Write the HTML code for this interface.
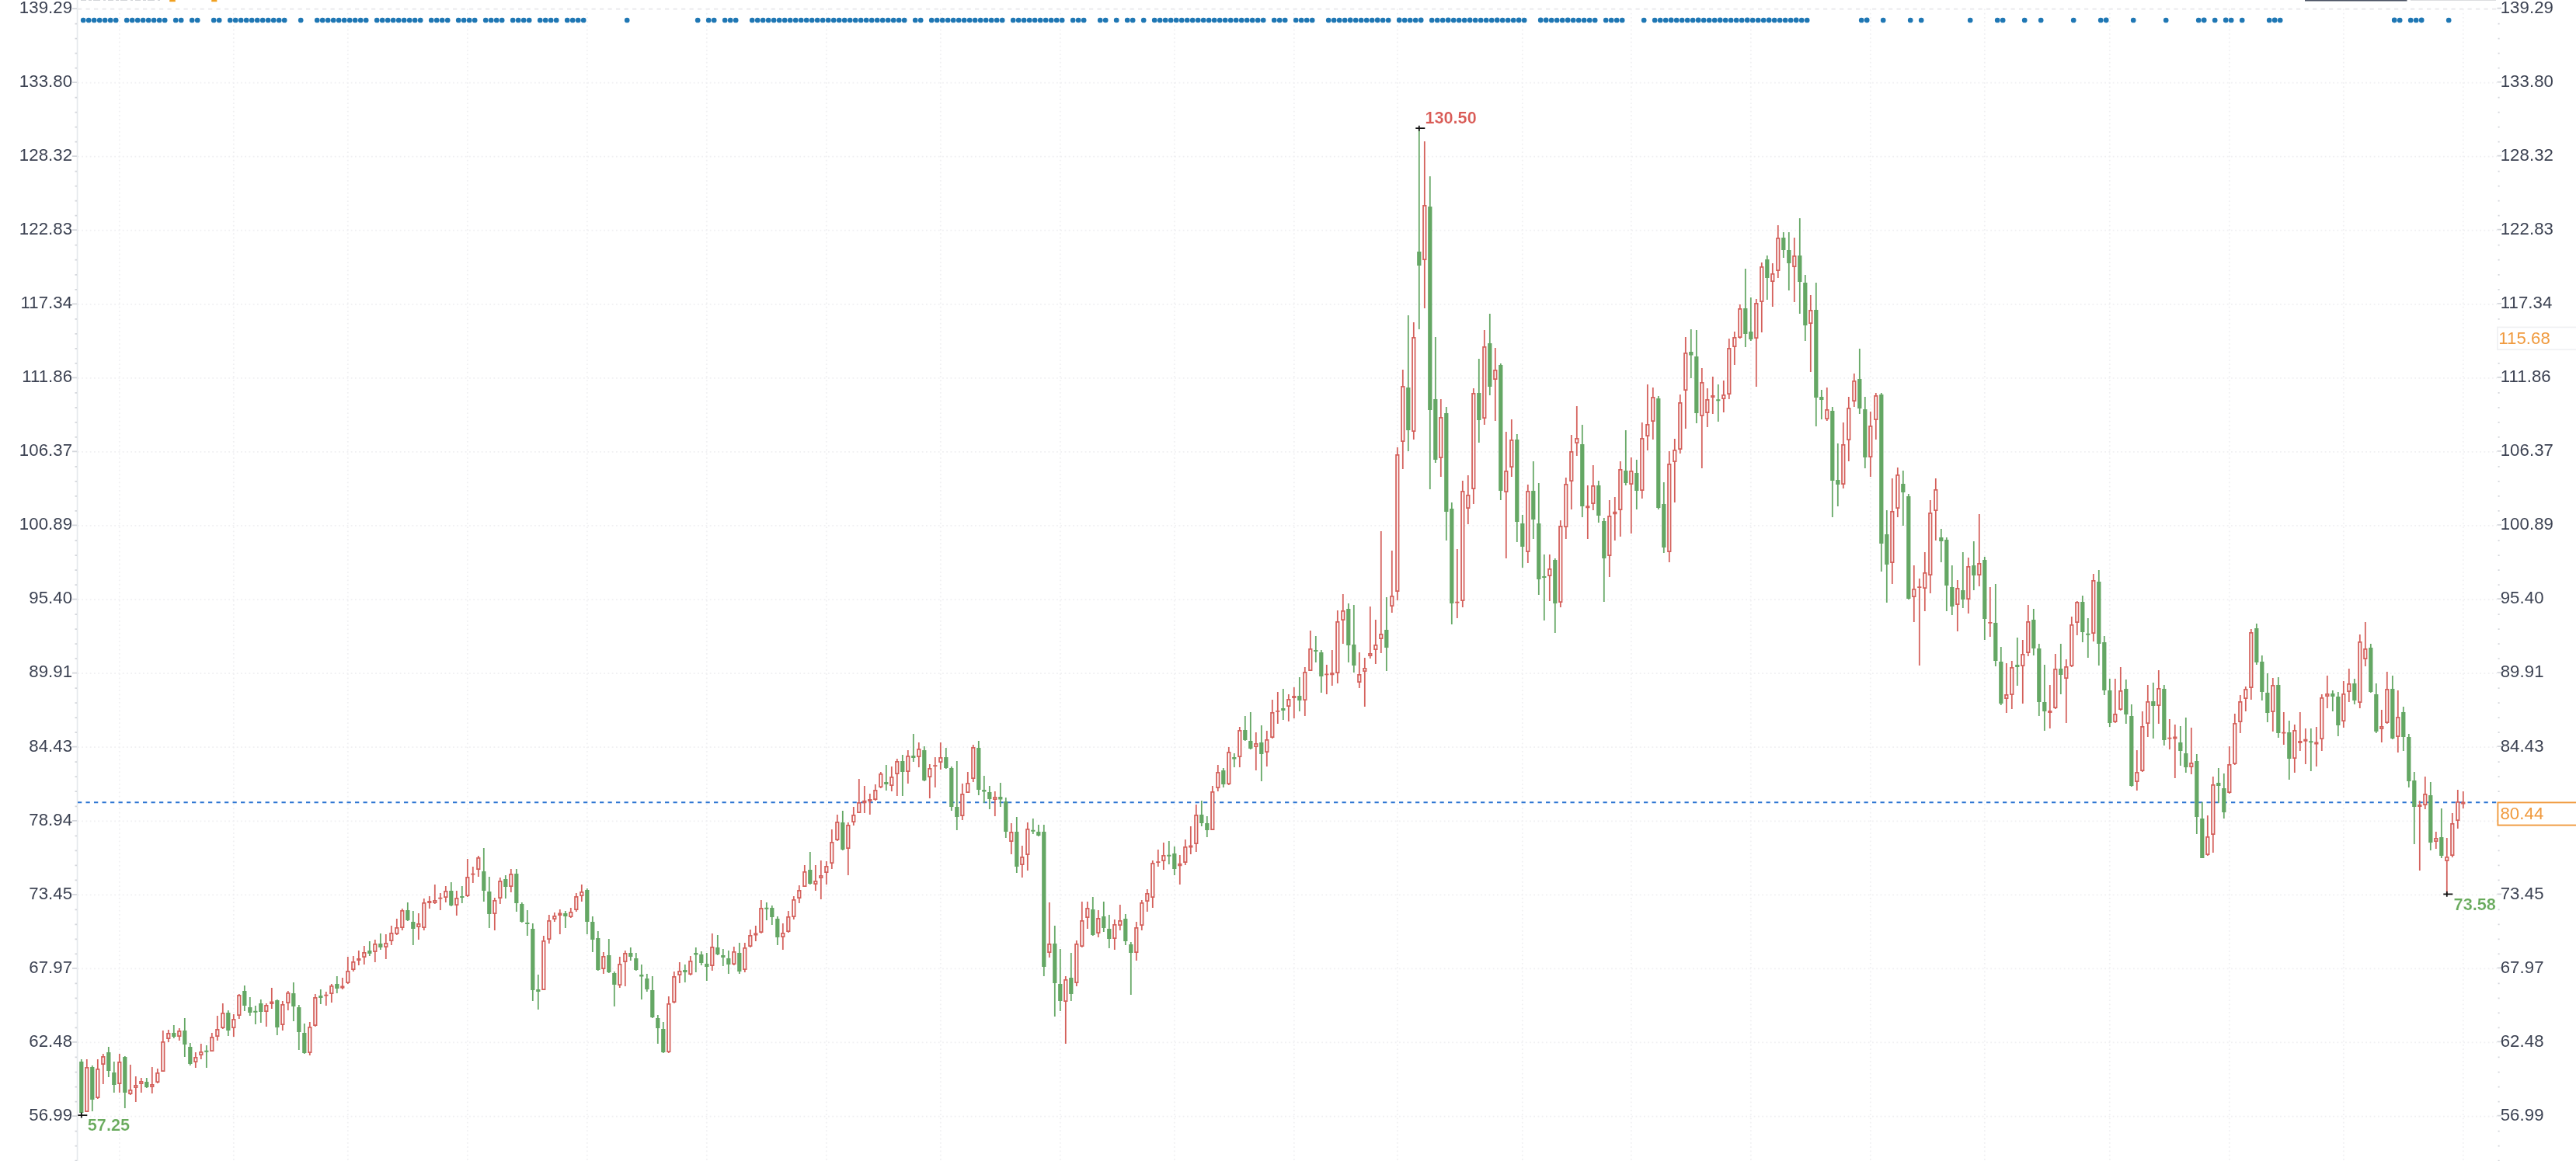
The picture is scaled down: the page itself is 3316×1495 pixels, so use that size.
<!DOCTYPE html><html><head><meta charset="utf-8"><title>Chart</title><style>html,body{margin:0;padding:0;background:#fff}body{width:3316px;height:1495px;overflow:hidden;position:relative}svg{display:block;position:absolute;left:0;top:0;filter:blur(0.6px)}text{font-family:"Liberation Sans",sans-serif;font-size:22.2px;letter-spacing:0.08px}.b{font-weight:bold;font-size:21.7px;letter-spacing:0;stroke:#fff;stroke-width:0.22px}</style></head><body>
<svg width="3316" height="1495" viewBox="0 0 3316 1495">
<rect width="3316" height="1495" fill="#fff"/>
<path d="M104 0.4 H208" stroke="#d3d5d9" stroke-width="1.2" stroke-dasharray="7 3 4 2 9 4 3 3" fill="none"/>
<rect x="218" y="0" width="8" height="2.2" rx="1" fill="#f0a020"/>
<rect x="272" y="0" width="7.5" height="2.2" rx="1" fill="#f0a020"/>
<rect x="2967" y="0" width="131.5" height="1.5" fill="#4a5263"/>
<rect x="3103" y="0" width="110" height="0.9" fill="#d8dadd"/>
<g fill="none"><path d="M100 11.5 H3214" stroke="#e7e8eb" stroke-width="1.75" stroke-dasharray="5.25 5.25"/><path d="M100 106.57 H3214" stroke="#f0f0f2" stroke-width="1.75" stroke-dasharray="1.75 3.5"/><path d="M100 201.64 H3214" stroke="#f0f0f2" stroke-width="1.75" stroke-dasharray="1.75 3.5"/><path d="M100 296.71 H3214" stroke="#f0f0f2" stroke-width="1.75" stroke-dasharray="1.75 3.5"/><path d="M100 391.78 H3214" stroke="#f0f0f2" stroke-width="1.75" stroke-dasharray="1.75 3.5"/><path d="M100 486.85 H3214" stroke="#f0f0f2" stroke-width="1.75" stroke-dasharray="1.75 3.5"/><path d="M100 581.92 H3214" stroke="#f0f0f2" stroke-width="1.75" stroke-dasharray="1.75 3.5"/><path d="M100 676.99 H3214" stroke="#f0f0f2" stroke-width="1.75" stroke-dasharray="1.75 3.5"/><path d="M100 772.06 H3214" stroke="#f0f0f2" stroke-width="1.75" stroke-dasharray="1.75 3.5"/><path d="M100 867.13 H3214" stroke="#f0f0f2" stroke-width="1.75" stroke-dasharray="1.75 3.5"/><path d="M100 962.2 H3214" stroke="#f0f0f2" stroke-width="1.75" stroke-dasharray="1.75 3.5"/><path d="M100 1057.27 H3214" stroke="#f0f0f2" stroke-width="1.75" stroke-dasharray="1.75 3.5"/><path d="M100 1152.34 H3214" stroke="#f0f0f2" stroke-width="1.75" stroke-dasharray="1.75 3.5"/><path d="M100 1247.41 H3214" stroke="#f0f0f2" stroke-width="1.75" stroke-dasharray="1.75 3.5"/><path d="M100 1342.48 H3214" stroke="#f0f0f2" stroke-width="1.75" stroke-dasharray="1.75 3.5"/><path d="M100 1437.55 H3214" stroke="#f0f0f2" stroke-width="1.75" stroke-dasharray="1.75 3.5"/><path d="M153.8 11.5 V1495" stroke="#f0f0f2" stroke-width="1.75" stroke-dasharray="1.75 3.5"/><path d="M300.8 11.5 V1495" stroke="#f0f0f2" stroke-width="1.75" stroke-dasharray="1.75 3.5"/><path d="M447.8 11.5 V1495" stroke="#f0f0f2" stroke-width="1.75" stroke-dasharray="1.75 3.5"/><path d="M601.8 11.5 V1495" stroke="#f0f0f2" stroke-width="1.75" stroke-dasharray="1.75 3.5"/><path d="M755.8 11.5 V1495" stroke="#f0f0f2" stroke-width="1.75" stroke-dasharray="1.75 3.5"/><path d="M909.8 11.5 V1495" stroke="#f0f0f2" stroke-width="1.75" stroke-dasharray="1.75 3.5"/><path d="M1063.8 11.5 V1495" stroke="#f0f0f2" stroke-width="1.75" stroke-dasharray="1.75 3.5"/><path d="M1210.8 11.5 V1495" stroke="#f0f0f2" stroke-width="1.75" stroke-dasharray="1.75 3.5"/><path d="M1364.8 11.5 V1495" stroke="#f0f0f2" stroke-width="1.75" stroke-dasharray="1.75 3.5"/><path d="M1511.8 11.5 V1495" stroke="#f0f0f2" stroke-width="1.75" stroke-dasharray="1.75 3.5"/><path d="M1665.8 11.5 V1495" stroke="#f0f0f2" stroke-width="1.75" stroke-dasharray="1.75 3.5"/><path d="M1798.8 11.5 V1495" stroke="#f0f0f2" stroke-width="1.75" stroke-dasharray="1.75 3.5"/><path d="M1959.8 11.5 V1495" stroke="#f0f0f2" stroke-width="1.75" stroke-dasharray="1.75 3.5"/><path d="M2099.8 11.5 V1495" stroke="#f0f0f2" stroke-width="1.75" stroke-dasharray="1.75 3.5"/><path d="M2253.8 11.5 V1495" stroke="#f0f0f2" stroke-width="1.75" stroke-dasharray="1.75 3.5"/><path d="M2407.8 11.5 V1495" stroke="#f0f0f2" stroke-width="1.75" stroke-dasharray="1.75 3.5"/><path d="M2554.8 11.5 V1495" stroke="#f0f0f2" stroke-width="1.75" stroke-dasharray="1.75 3.5"/><path d="M2715.8 11.5 V1495" stroke="#f0f0f2" stroke-width="1.75" stroke-dasharray="1.75 3.5"/><path d="M2869.8 11.5 V1495" stroke="#f0f0f2" stroke-width="1.75" stroke-dasharray="1.75 3.5"/><path d="M3016.8 11.5 V1495" stroke="#f0f0f2" stroke-width="1.75" stroke-dasharray="1.75 3.5"/><path d="M3170.8 11.5 V1495" stroke="#f0f0f2" stroke-width="1.75" stroke-dasharray="1.75 3.5"/></g>
<path d="M99.6 0 V1495" stroke="#e6e9ed" stroke-width="1.75" fill="none"/>
<path d="M93 11 H99M3214.5 10.5 H3220M96.5 30.51 H99M3215.6 30.51 H3217.6M96.5 49.53 H99M3215.6 49.53 H3217.6M96.5 68.54 H99M3215.6 68.54 H3217.6M96.5 87.56 H99M3215.6 87.56 H3217.6M93 106.07 H99M3214.5 105.57 H3220M96.5 125.58 H99M3215.6 125.58 H3217.6M96.5 144.6 H99M3215.6 144.6 H3217.6M96.5 163.61 H99M3215.6 163.61 H3217.6M96.5 182.63 H99M3215.6 182.63 H3217.6M93 201.14 H99M3214.5 200.64 H3220M96.5 220.65 H99M3215.6 220.65 H3217.6M96.5 239.67 H99M3215.6 239.67 H3217.6M96.5 258.68 H99M3215.6 258.68 H3217.6M96.5 277.7 H99M3215.6 277.7 H3217.6M93 296.21 H99M3214.5 295.71 H3220M96.5 315.72 H99M3215.6 315.72 H3217.6M96.5 334.74 H99M3215.6 334.74 H3217.6M96.5 353.75 H99M3215.6 353.75 H3217.6M96.5 372.77 H99M3215.6 372.77 H3217.6M93 391.28 H99M3214.5 390.78 H3220M96.5 410.79 H99M3215.6 410.79 H3217.6M96.5 429.81 H99M3215.6 429.81 H3217.6M96.5 448.82 H99M3215.6 448.82 H3217.6M96.5 467.84 H99M3215.6 467.84 H3217.6M93 486.35 H99M3214.5 485.85 H3220M96.5 505.86 H99M3215.6 505.86 H3217.6M96.5 524.88 H99M3215.6 524.88 H3217.6M96.5 543.89 H99M3215.6 543.89 H3217.6M96.5 562.91 H99M3215.6 562.91 H3217.6M93 581.42 H99M3214.5 580.92 H3220M96.5 600.93 H99M3215.6 600.93 H3217.6M96.5 619.95 H99M3215.6 619.95 H3217.6M96.5 638.96 H99M3215.6 638.96 H3217.6M96.5 657.98 H99M3215.6 657.98 H3217.6M93 676.49 H99M3214.5 675.99 H3220M96.5 696 H99M3215.6 696 H3217.6M96.5 715.02 H99M3215.6 715.02 H3217.6M96.5 734.03 H99M3215.6 734.03 H3217.6M96.5 753.05 H99M3215.6 753.05 H3217.6M93 771.56 H99M3214.5 771.06 H3220M96.5 791.07 H99M3215.6 791.07 H3217.6M96.5 810.09 H99M3215.6 810.09 H3217.6M96.5 829.1 H99M3215.6 829.1 H3217.6M96.5 848.12 H99M3215.6 848.12 H3217.6M93 866.63 H99M3214.5 866.13 H3220M96.5 886.14 H99M3215.6 886.14 H3217.6M96.5 905.16 H99M3215.6 905.16 H3217.6M96.5 924.17 H99M3215.6 924.17 H3217.6M96.5 943.19 H99M3215.6 943.19 H3217.6M93 961.7 H99M3214.5 961.2 H3220M96.5 981.21 H99M3215.6 981.21 H3217.6M96.5 1000.23 H99M3215.6 1000.23 H3217.6M96.5 1019.24 H99M3215.6 1019.24 H3217.6M96.5 1038.26 H99M3215.6 1038.26 H3217.6M93 1056.77 H99M3214.5 1056.27 H3220M96.5 1076.28 H99M3215.6 1076.28 H3217.6M96.5 1095.3 H99M3215.6 1095.3 H3217.6M96.5 1114.31 H99M3215.6 1114.31 H3217.6M96.5 1133.33 H99M3215.6 1133.33 H3217.6M93 1151.84 H99M3214.5 1151.34 H3220M96.5 1171.35 H99M3215.6 1171.35 H3217.6M96.5 1190.37 H99M3215.6 1190.37 H3217.6M96.5 1209.38 H99M3215.6 1209.38 H3217.6M96.5 1228.4 H99M3215.6 1228.4 H3217.6M93 1246.91 H99M3214.5 1246.41 H3220M96.5 1266.42 H99M3215.6 1266.42 H3217.6M96.5 1285.44 H99M3215.6 1285.44 H3217.6M96.5 1304.45 H99M3215.6 1304.45 H3217.6M96.5 1323.47 H99M3215.6 1323.47 H3217.6M93 1341.98 H99M3214.5 1341.48 H3220M96.5 1361.49 H99M3215.6 1361.49 H3217.6M96.5 1380.51 H99M3215.6 1380.51 H3217.6M96.5 1399.52 H99M3215.6 1399.52 H3217.6M96.5 1418.54 H99M3215.6 1418.54 H3217.6M93 1437.05 H99M3214.5 1436.55 H3220M96.5 1456.56 H99M3215.6 1456.56 H3217.6M96.5 1475.58 H99M3215.6 1475.58 H3217.6M96.5 1494.59 H99M3215.6 1494.59 H3217.6" stroke="#d3d6db" stroke-width="1.75" fill="none"/>
<text x="93.2" y="16.8" text-anchor="end" fill="#3c4252">139.29</text>
<text x="3218.7" y="16.8" fill="#3c4252">139.29</text>
<text x="93.2" y="111.87" text-anchor="end" fill="#3c4252">133.80</text>
<text x="3218.7" y="111.87" fill="#3c4252">133.80</text>
<text x="93.2" y="206.94" text-anchor="end" fill="#3c4252">128.32</text>
<text x="3218.7" y="206.94" fill="#3c4252">128.32</text>
<text x="93.2" y="302.01" text-anchor="end" fill="#3c4252">122.83</text>
<text x="3218.7" y="302.01" fill="#3c4252">122.83</text>
<text x="93.2" y="397.08" text-anchor="end" fill="#3c4252">117.34</text>
<text x="3218.7" y="397.08" fill="#3c4252">117.34</text>
<text x="93.2" y="492.15" text-anchor="end" fill="#3c4252">111.86</text>
<text x="3218.7" y="492.15" fill="#3c4252">111.86</text>
<text x="93.2" y="587.22" text-anchor="end" fill="#3c4252">106.37</text>
<text x="3218.7" y="587.22" fill="#3c4252">106.37</text>
<text x="93.2" y="682.29" text-anchor="end" fill="#3c4252">100.89</text>
<text x="3218.7" y="682.29" fill="#3c4252">100.89</text>
<text x="93.2" y="777.36" text-anchor="end" fill="#3c4252">95.40</text>
<text x="3218.7" y="777.36" fill="#3c4252">95.40</text>
<text x="93.2" y="872.43" text-anchor="end" fill="#3c4252">89.91</text>
<text x="3218.7" y="872.43" fill="#3c4252">89.91</text>
<text x="93.2" y="967.5" text-anchor="end" fill="#3c4252">84.43</text>
<text x="3218.7" y="967.5" fill="#3c4252">84.43</text>
<text x="93.2" y="1062.57" text-anchor="end" fill="#3c4252">78.94</text>
<text x="3218.7" y="1062.57" fill="#3c4252">78.94</text>
<text x="93.2" y="1157.64" text-anchor="end" fill="#3c4252">73.45</text>
<text x="3218.7" y="1157.64" fill="#3c4252">73.45</text>
<text x="93.2" y="1252.71" text-anchor="end" fill="#3c4252">67.97</text>
<text x="3218.7" y="1252.71" fill="#3c4252">67.97</text>
<text x="93.2" y="1347.78" text-anchor="end" fill="#3c4252">62.48</text>
<text x="3218.7" y="1347.78" fill="#3c4252">62.48</text>
<text x="93.2" y="1442.85" text-anchor="end" fill="#3c4252">56.99</text>
<text x="3218.7" y="1442.85" fill="#3c4252">56.99</text>
<path d="M103.85 26a3.35 3.35 0 1 0 6.7 0a3.35 3.35 0 1 0 -6.7 0M110.85 26a3.35 3.35 0 1 0 6.7 0a3.35 3.35 0 1 0 -6.7 0M117.85 26a3.35 3.35 0 1 0 6.7 0a3.35 3.35 0 1 0 -6.7 0M124.85 26a3.35 3.35 0 1 0 6.7 0a3.35 3.35 0 1 0 -6.7 0M131.85 26a3.35 3.35 0 1 0 6.7 0a3.35 3.35 0 1 0 -6.7 0M138.85 26a3.35 3.35 0 1 0 6.7 0a3.35 3.35 0 1 0 -6.7 0M145.85 26a3.35 3.35 0 1 0 6.7 0a3.35 3.35 0 1 0 -6.7 0M159.85 26a3.35 3.35 0 1 0 6.7 0a3.35 3.35 0 1 0 -6.7 0M166.85 26a3.35 3.35 0 1 0 6.7 0a3.35 3.35 0 1 0 -6.7 0M173.85 26a3.35 3.35 0 1 0 6.7 0a3.35 3.35 0 1 0 -6.7 0M180.85 26a3.35 3.35 0 1 0 6.7 0a3.35 3.35 0 1 0 -6.7 0M187.85 26a3.35 3.35 0 1 0 6.7 0a3.35 3.35 0 1 0 -6.7 0M194.85 26a3.35 3.35 0 1 0 6.7 0a3.35 3.35 0 1 0 -6.7 0M201.85 26a3.35 3.35 0 1 0 6.7 0a3.35 3.35 0 1 0 -6.7 0M208.85 26a3.35 3.35 0 1 0 6.7 0a3.35 3.35 0 1 0 -6.7 0M222.85 26a3.35 3.35 0 1 0 6.7 0a3.35 3.35 0 1 0 -6.7 0M229.85 26a3.35 3.35 0 1 0 6.7 0a3.35 3.35 0 1 0 -6.7 0M243.85 26a3.35 3.35 0 1 0 6.7 0a3.35 3.35 0 1 0 -6.7 0M250.85 26a3.35 3.35 0 1 0 6.7 0a3.35 3.35 0 1 0 -6.7 0M271.85 26a3.35 3.35 0 1 0 6.7 0a3.35 3.35 0 1 0 -6.7 0M278.85 26a3.35 3.35 0 1 0 6.7 0a3.35 3.35 0 1 0 -6.7 0M292.85 26a3.35 3.35 0 1 0 6.7 0a3.35 3.35 0 1 0 -6.7 0M299.85 26a3.35 3.35 0 1 0 6.7 0a3.35 3.35 0 1 0 -6.7 0M306.85 26a3.35 3.35 0 1 0 6.7 0a3.35 3.35 0 1 0 -6.7 0M313.85 26a3.35 3.35 0 1 0 6.7 0a3.35 3.35 0 1 0 -6.7 0M320.85 26a3.35 3.35 0 1 0 6.7 0a3.35 3.35 0 1 0 -6.7 0M327.85 26a3.35 3.35 0 1 0 6.7 0a3.35 3.35 0 1 0 -6.7 0M334.85 26a3.35 3.35 0 1 0 6.7 0a3.35 3.35 0 1 0 -6.7 0M341.85 26a3.35 3.35 0 1 0 6.7 0a3.35 3.35 0 1 0 -6.7 0M348.85 26a3.35 3.35 0 1 0 6.7 0a3.35 3.35 0 1 0 -6.7 0M355.85 26a3.35 3.35 0 1 0 6.7 0a3.35 3.35 0 1 0 -6.7 0M362.85 26a3.35 3.35 0 1 0 6.7 0a3.35 3.35 0 1 0 -6.7 0M383.85 26a3.35 3.35 0 1 0 6.7 0a3.35 3.35 0 1 0 -6.7 0M404.85 26a3.35 3.35 0 1 0 6.7 0a3.35 3.35 0 1 0 -6.7 0M411.85 26a3.35 3.35 0 1 0 6.7 0a3.35 3.35 0 1 0 -6.7 0M418.85 26a3.35 3.35 0 1 0 6.7 0a3.35 3.35 0 1 0 -6.7 0M425.85 26a3.35 3.35 0 1 0 6.7 0a3.35 3.35 0 1 0 -6.7 0M432.85 26a3.35 3.35 0 1 0 6.7 0a3.35 3.35 0 1 0 -6.7 0M439.85 26a3.35 3.35 0 1 0 6.7 0a3.35 3.35 0 1 0 -6.7 0M446.85 26a3.35 3.35 0 1 0 6.7 0a3.35 3.35 0 1 0 -6.7 0M453.85 26a3.35 3.35 0 1 0 6.7 0a3.35 3.35 0 1 0 -6.7 0M460.85 26a3.35 3.35 0 1 0 6.7 0a3.35 3.35 0 1 0 -6.7 0M467.85 26a3.35 3.35 0 1 0 6.7 0a3.35 3.35 0 1 0 -6.7 0M481.85 26a3.35 3.35 0 1 0 6.7 0a3.35 3.35 0 1 0 -6.7 0M488.85 26a3.35 3.35 0 1 0 6.7 0a3.35 3.35 0 1 0 -6.7 0M495.85 26a3.35 3.35 0 1 0 6.7 0a3.35 3.35 0 1 0 -6.7 0M502.85 26a3.35 3.35 0 1 0 6.7 0a3.35 3.35 0 1 0 -6.7 0M509.85 26a3.35 3.35 0 1 0 6.7 0a3.35 3.35 0 1 0 -6.7 0M516.85 26a3.35 3.35 0 1 0 6.7 0a3.35 3.35 0 1 0 -6.7 0M523.85 26a3.35 3.35 0 1 0 6.7 0a3.35 3.35 0 1 0 -6.7 0M530.85 26a3.35 3.35 0 1 0 6.7 0a3.35 3.35 0 1 0 -6.7 0M537.85 26a3.35 3.35 0 1 0 6.7 0a3.35 3.35 0 1 0 -6.7 0M551.85 26a3.35 3.35 0 1 0 6.7 0a3.35 3.35 0 1 0 -6.7 0M558.85 26a3.35 3.35 0 1 0 6.7 0a3.35 3.35 0 1 0 -6.7 0M565.85 26a3.35 3.35 0 1 0 6.7 0a3.35 3.35 0 1 0 -6.7 0M572.85 26a3.35 3.35 0 1 0 6.7 0a3.35 3.35 0 1 0 -6.7 0M586.85 26a3.35 3.35 0 1 0 6.7 0a3.35 3.35 0 1 0 -6.7 0M593.85 26a3.35 3.35 0 1 0 6.7 0a3.35 3.35 0 1 0 -6.7 0M600.85 26a3.35 3.35 0 1 0 6.7 0a3.35 3.35 0 1 0 -6.7 0M607.85 26a3.35 3.35 0 1 0 6.7 0a3.35 3.35 0 1 0 -6.7 0M621.85 26a3.35 3.35 0 1 0 6.7 0a3.35 3.35 0 1 0 -6.7 0M628.85 26a3.35 3.35 0 1 0 6.7 0a3.35 3.35 0 1 0 -6.7 0M635.85 26a3.35 3.35 0 1 0 6.7 0a3.35 3.35 0 1 0 -6.7 0M642.85 26a3.35 3.35 0 1 0 6.7 0a3.35 3.35 0 1 0 -6.7 0M656.85 26a3.35 3.35 0 1 0 6.7 0a3.35 3.35 0 1 0 -6.7 0M663.85 26a3.35 3.35 0 1 0 6.7 0a3.35 3.35 0 1 0 -6.7 0M670.85 26a3.35 3.35 0 1 0 6.7 0a3.35 3.35 0 1 0 -6.7 0M677.85 26a3.35 3.35 0 1 0 6.7 0a3.35 3.35 0 1 0 -6.7 0M691.85 26a3.35 3.35 0 1 0 6.7 0a3.35 3.35 0 1 0 -6.7 0M698.85 26a3.35 3.35 0 1 0 6.7 0a3.35 3.35 0 1 0 -6.7 0M705.85 26a3.35 3.35 0 1 0 6.7 0a3.35 3.35 0 1 0 -6.7 0M712.85 26a3.35 3.35 0 1 0 6.7 0a3.35 3.35 0 1 0 -6.7 0M726.85 26a3.35 3.35 0 1 0 6.7 0a3.35 3.35 0 1 0 -6.7 0M733.85 26a3.35 3.35 0 1 0 6.7 0a3.35 3.35 0 1 0 -6.7 0M740.85 26a3.35 3.35 0 1 0 6.7 0a3.35 3.35 0 1 0 -6.7 0M747.85 26a3.35 3.35 0 1 0 6.7 0a3.35 3.35 0 1 0 -6.7 0M803.85 26a3.35 3.35 0 1 0 6.7 0a3.35 3.35 0 1 0 -6.7 0M894.85 26a3.35 3.35 0 1 0 6.7 0a3.35 3.35 0 1 0 -6.7 0M908.85 26a3.35 3.35 0 1 0 6.7 0a3.35 3.35 0 1 0 -6.7 0M915.85 26a3.35 3.35 0 1 0 6.7 0a3.35 3.35 0 1 0 -6.7 0M929.85 26a3.35 3.35 0 1 0 6.7 0a3.35 3.35 0 1 0 -6.7 0M936.85 26a3.35 3.35 0 1 0 6.7 0a3.35 3.35 0 1 0 -6.7 0M943.85 26a3.35 3.35 0 1 0 6.7 0a3.35 3.35 0 1 0 -6.7 0M964.85 26a3.35 3.35 0 1 0 6.7 0a3.35 3.35 0 1 0 -6.7 0M971.85 26a3.35 3.35 0 1 0 6.7 0a3.35 3.35 0 1 0 -6.7 0M978.85 26a3.35 3.35 0 1 0 6.7 0a3.35 3.35 0 1 0 -6.7 0M985.85 26a3.35 3.35 0 1 0 6.7 0a3.35 3.35 0 1 0 -6.7 0M992.85 26a3.35 3.35 0 1 0 6.7 0a3.35 3.35 0 1 0 -6.7 0M999.85 26a3.35 3.35 0 1 0 6.7 0a3.35 3.35 0 1 0 -6.7 0M1006.85 26a3.35 3.35 0 1 0 6.7 0a3.35 3.35 0 1 0 -6.7 0M1013.85 26a3.35 3.35 0 1 0 6.7 0a3.35 3.35 0 1 0 -6.7 0M1020.85 26a3.35 3.35 0 1 0 6.7 0a3.35 3.35 0 1 0 -6.7 0M1027.85 26a3.35 3.35 0 1 0 6.7 0a3.35 3.35 0 1 0 -6.7 0M1034.85 26a3.35 3.35 0 1 0 6.7 0a3.35 3.35 0 1 0 -6.7 0M1041.85 26a3.35 3.35 0 1 0 6.7 0a3.35 3.35 0 1 0 -6.7 0M1048.85 26a3.35 3.35 0 1 0 6.7 0a3.35 3.35 0 1 0 -6.7 0M1055.85 26a3.35 3.35 0 1 0 6.7 0a3.35 3.35 0 1 0 -6.7 0M1062.85 26a3.35 3.35 0 1 0 6.7 0a3.35 3.35 0 1 0 -6.7 0M1069.85 26a3.35 3.35 0 1 0 6.7 0a3.35 3.35 0 1 0 -6.7 0M1076.85 26a3.35 3.35 0 1 0 6.7 0a3.35 3.35 0 1 0 -6.7 0M1083.85 26a3.35 3.35 0 1 0 6.7 0a3.35 3.35 0 1 0 -6.7 0M1090.85 26a3.35 3.35 0 1 0 6.7 0a3.35 3.35 0 1 0 -6.7 0M1097.85 26a3.35 3.35 0 1 0 6.7 0a3.35 3.35 0 1 0 -6.7 0M1104.85 26a3.35 3.35 0 1 0 6.7 0a3.35 3.35 0 1 0 -6.7 0M1111.85 26a3.35 3.35 0 1 0 6.7 0a3.35 3.35 0 1 0 -6.7 0M1118.85 26a3.35 3.35 0 1 0 6.7 0a3.35 3.35 0 1 0 -6.7 0M1125.85 26a3.35 3.35 0 1 0 6.7 0a3.35 3.35 0 1 0 -6.7 0M1132.85 26a3.35 3.35 0 1 0 6.7 0a3.35 3.35 0 1 0 -6.7 0M1139.85 26a3.35 3.35 0 1 0 6.7 0a3.35 3.35 0 1 0 -6.7 0M1146.85 26a3.35 3.35 0 1 0 6.7 0a3.35 3.35 0 1 0 -6.7 0M1153.85 26a3.35 3.35 0 1 0 6.7 0a3.35 3.35 0 1 0 -6.7 0M1160.85 26a3.35 3.35 0 1 0 6.7 0a3.35 3.35 0 1 0 -6.7 0M1174.85 26a3.35 3.35 0 1 0 6.7 0a3.35 3.35 0 1 0 -6.7 0M1181.85 26a3.35 3.35 0 1 0 6.7 0a3.35 3.35 0 1 0 -6.7 0M1195.85 26a3.35 3.35 0 1 0 6.7 0a3.35 3.35 0 1 0 -6.7 0M1202.85 26a3.35 3.35 0 1 0 6.7 0a3.35 3.35 0 1 0 -6.7 0M1209.85 26a3.35 3.35 0 1 0 6.7 0a3.35 3.35 0 1 0 -6.7 0M1216.85 26a3.35 3.35 0 1 0 6.7 0a3.35 3.35 0 1 0 -6.7 0M1223.85 26a3.35 3.35 0 1 0 6.7 0a3.35 3.35 0 1 0 -6.7 0M1230.85 26a3.35 3.35 0 1 0 6.7 0a3.35 3.35 0 1 0 -6.7 0M1237.85 26a3.35 3.35 0 1 0 6.7 0a3.35 3.35 0 1 0 -6.7 0M1244.85 26a3.35 3.35 0 1 0 6.7 0a3.35 3.35 0 1 0 -6.7 0M1251.85 26a3.35 3.35 0 1 0 6.7 0a3.35 3.35 0 1 0 -6.7 0M1258.85 26a3.35 3.35 0 1 0 6.7 0a3.35 3.35 0 1 0 -6.7 0M1265.85 26a3.35 3.35 0 1 0 6.7 0a3.35 3.35 0 1 0 -6.7 0M1272.85 26a3.35 3.35 0 1 0 6.7 0a3.35 3.35 0 1 0 -6.7 0M1279.85 26a3.35 3.35 0 1 0 6.7 0a3.35 3.35 0 1 0 -6.7 0M1286.85 26a3.35 3.35 0 1 0 6.7 0a3.35 3.35 0 1 0 -6.7 0M1300.85 26a3.35 3.35 0 1 0 6.7 0a3.35 3.35 0 1 0 -6.7 0M1307.85 26a3.35 3.35 0 1 0 6.7 0a3.35 3.35 0 1 0 -6.7 0M1314.85 26a3.35 3.35 0 1 0 6.7 0a3.35 3.35 0 1 0 -6.7 0M1321.85 26a3.35 3.35 0 1 0 6.7 0a3.35 3.35 0 1 0 -6.7 0M1328.85 26a3.35 3.35 0 1 0 6.7 0a3.35 3.35 0 1 0 -6.7 0M1335.85 26a3.35 3.35 0 1 0 6.7 0a3.35 3.35 0 1 0 -6.7 0M1342.85 26a3.35 3.35 0 1 0 6.7 0a3.35 3.35 0 1 0 -6.7 0M1349.85 26a3.35 3.35 0 1 0 6.7 0a3.35 3.35 0 1 0 -6.7 0M1356.85 26a3.35 3.35 0 1 0 6.7 0a3.35 3.35 0 1 0 -6.7 0M1363.85 26a3.35 3.35 0 1 0 6.7 0a3.35 3.35 0 1 0 -6.7 0M1377.85 26a3.35 3.35 0 1 0 6.7 0a3.35 3.35 0 1 0 -6.7 0M1384.85 26a3.35 3.35 0 1 0 6.7 0a3.35 3.35 0 1 0 -6.7 0M1391.85 26a3.35 3.35 0 1 0 6.7 0a3.35 3.35 0 1 0 -6.7 0M1412.85 26a3.35 3.35 0 1 0 6.7 0a3.35 3.35 0 1 0 -6.7 0M1419.85 26a3.35 3.35 0 1 0 6.7 0a3.35 3.35 0 1 0 -6.7 0M1433.85 26a3.35 3.35 0 1 0 6.7 0a3.35 3.35 0 1 0 -6.7 0M1447.85 26a3.35 3.35 0 1 0 6.7 0a3.35 3.35 0 1 0 -6.7 0M1454.85 26a3.35 3.35 0 1 0 6.7 0a3.35 3.35 0 1 0 -6.7 0M1468.85 26a3.35 3.35 0 1 0 6.7 0a3.35 3.35 0 1 0 -6.7 0M1482.85 26a3.35 3.35 0 1 0 6.7 0a3.35 3.35 0 1 0 -6.7 0M1489.85 26a3.35 3.35 0 1 0 6.7 0a3.35 3.35 0 1 0 -6.7 0M1496.85 26a3.35 3.35 0 1 0 6.7 0a3.35 3.35 0 1 0 -6.7 0M1503.85 26a3.35 3.35 0 1 0 6.7 0a3.35 3.35 0 1 0 -6.7 0M1510.85 26a3.35 3.35 0 1 0 6.7 0a3.35 3.35 0 1 0 -6.7 0M1517.85 26a3.35 3.35 0 1 0 6.7 0a3.35 3.35 0 1 0 -6.7 0M1524.85 26a3.35 3.35 0 1 0 6.7 0a3.35 3.35 0 1 0 -6.7 0M1531.85 26a3.35 3.35 0 1 0 6.7 0a3.35 3.35 0 1 0 -6.7 0M1538.85 26a3.35 3.35 0 1 0 6.7 0a3.35 3.35 0 1 0 -6.7 0M1545.85 26a3.35 3.35 0 1 0 6.7 0a3.35 3.35 0 1 0 -6.7 0M1552.85 26a3.35 3.35 0 1 0 6.7 0a3.35 3.35 0 1 0 -6.7 0M1559.85 26a3.35 3.35 0 1 0 6.7 0a3.35 3.35 0 1 0 -6.7 0M1566.85 26a3.35 3.35 0 1 0 6.7 0a3.35 3.35 0 1 0 -6.7 0M1573.85 26a3.35 3.35 0 1 0 6.7 0a3.35 3.35 0 1 0 -6.7 0M1580.85 26a3.35 3.35 0 1 0 6.7 0a3.35 3.35 0 1 0 -6.7 0M1587.85 26a3.35 3.35 0 1 0 6.7 0a3.35 3.35 0 1 0 -6.7 0M1594.85 26a3.35 3.35 0 1 0 6.7 0a3.35 3.35 0 1 0 -6.7 0M1601.85 26a3.35 3.35 0 1 0 6.7 0a3.35 3.35 0 1 0 -6.7 0M1608.85 26a3.35 3.35 0 1 0 6.7 0a3.35 3.35 0 1 0 -6.7 0M1615.85 26a3.35 3.35 0 1 0 6.7 0a3.35 3.35 0 1 0 -6.7 0M1622.85 26a3.35 3.35 0 1 0 6.7 0a3.35 3.35 0 1 0 -6.7 0M1636.85 26a3.35 3.35 0 1 0 6.7 0a3.35 3.35 0 1 0 -6.7 0M1643.85 26a3.35 3.35 0 1 0 6.7 0a3.35 3.35 0 1 0 -6.7 0M1650.85 26a3.35 3.35 0 1 0 6.7 0a3.35 3.35 0 1 0 -6.7 0M1664.85 26a3.35 3.35 0 1 0 6.7 0a3.35 3.35 0 1 0 -6.7 0M1671.85 26a3.35 3.35 0 1 0 6.7 0a3.35 3.35 0 1 0 -6.7 0M1678.85 26a3.35 3.35 0 1 0 6.7 0a3.35 3.35 0 1 0 -6.7 0M1685.85 26a3.35 3.35 0 1 0 6.7 0a3.35 3.35 0 1 0 -6.7 0M1706.85 26a3.35 3.35 0 1 0 6.7 0a3.35 3.35 0 1 0 -6.7 0M1713.85 26a3.35 3.35 0 1 0 6.7 0a3.35 3.35 0 1 0 -6.7 0M1720.85 26a3.35 3.35 0 1 0 6.7 0a3.35 3.35 0 1 0 -6.7 0M1727.85 26a3.35 3.35 0 1 0 6.7 0a3.35 3.35 0 1 0 -6.7 0M1734.85 26a3.35 3.35 0 1 0 6.7 0a3.35 3.35 0 1 0 -6.7 0M1741.85 26a3.35 3.35 0 1 0 6.7 0a3.35 3.35 0 1 0 -6.7 0M1748.85 26a3.35 3.35 0 1 0 6.7 0a3.35 3.35 0 1 0 -6.7 0M1755.85 26a3.35 3.35 0 1 0 6.7 0a3.35 3.35 0 1 0 -6.7 0M1762.85 26a3.35 3.35 0 1 0 6.7 0a3.35 3.35 0 1 0 -6.7 0M1769.85 26a3.35 3.35 0 1 0 6.7 0a3.35 3.35 0 1 0 -6.7 0M1776.85 26a3.35 3.35 0 1 0 6.7 0a3.35 3.35 0 1 0 -6.7 0M1783.85 26a3.35 3.35 0 1 0 6.7 0a3.35 3.35 0 1 0 -6.7 0M1797.85 26a3.35 3.35 0 1 0 6.7 0a3.35 3.35 0 1 0 -6.7 0M1804.85 26a3.35 3.35 0 1 0 6.7 0a3.35 3.35 0 1 0 -6.7 0M1811.85 26a3.35 3.35 0 1 0 6.7 0a3.35 3.35 0 1 0 -6.7 0M1818.85 26a3.35 3.35 0 1 0 6.7 0a3.35 3.35 0 1 0 -6.7 0M1825.85 26a3.35 3.35 0 1 0 6.7 0a3.35 3.35 0 1 0 -6.7 0M1839.85 26a3.35 3.35 0 1 0 6.7 0a3.35 3.35 0 1 0 -6.7 0M1846.85 26a3.35 3.35 0 1 0 6.7 0a3.35 3.35 0 1 0 -6.7 0M1853.85 26a3.35 3.35 0 1 0 6.7 0a3.35 3.35 0 1 0 -6.7 0M1860.85 26a3.35 3.35 0 1 0 6.7 0a3.35 3.35 0 1 0 -6.7 0M1867.85 26a3.35 3.35 0 1 0 6.7 0a3.35 3.35 0 1 0 -6.7 0M1874.85 26a3.35 3.35 0 1 0 6.7 0a3.35 3.35 0 1 0 -6.7 0M1881.85 26a3.35 3.35 0 1 0 6.7 0a3.35 3.35 0 1 0 -6.7 0M1888.85 26a3.35 3.35 0 1 0 6.7 0a3.35 3.35 0 1 0 -6.7 0M1895.85 26a3.35 3.35 0 1 0 6.7 0a3.35 3.35 0 1 0 -6.7 0M1902.85 26a3.35 3.35 0 1 0 6.7 0a3.35 3.35 0 1 0 -6.7 0M1909.85 26a3.35 3.35 0 1 0 6.7 0a3.35 3.35 0 1 0 -6.7 0M1916.85 26a3.35 3.35 0 1 0 6.7 0a3.35 3.35 0 1 0 -6.7 0M1923.85 26a3.35 3.35 0 1 0 6.7 0a3.35 3.35 0 1 0 -6.7 0M1930.85 26a3.35 3.35 0 1 0 6.7 0a3.35 3.35 0 1 0 -6.7 0M1937.85 26a3.35 3.35 0 1 0 6.7 0a3.35 3.35 0 1 0 -6.7 0M1944.85 26a3.35 3.35 0 1 0 6.7 0a3.35 3.35 0 1 0 -6.7 0M1951.85 26a3.35 3.35 0 1 0 6.7 0a3.35 3.35 0 1 0 -6.7 0M1958.85 26a3.35 3.35 0 1 0 6.7 0a3.35 3.35 0 1 0 -6.7 0M1979.85 26a3.35 3.35 0 1 0 6.7 0a3.35 3.35 0 1 0 -6.7 0M1986.85 26a3.35 3.35 0 1 0 6.7 0a3.35 3.35 0 1 0 -6.7 0M1993.85 26a3.35 3.35 0 1 0 6.7 0a3.35 3.35 0 1 0 -6.7 0M2000.85 26a3.35 3.35 0 1 0 6.7 0a3.35 3.35 0 1 0 -6.7 0M2007.85 26a3.35 3.35 0 1 0 6.7 0a3.35 3.35 0 1 0 -6.7 0M2014.85 26a3.35 3.35 0 1 0 6.7 0a3.35 3.35 0 1 0 -6.7 0M2021.85 26a3.35 3.35 0 1 0 6.7 0a3.35 3.35 0 1 0 -6.7 0M2028.85 26a3.35 3.35 0 1 0 6.7 0a3.35 3.35 0 1 0 -6.7 0M2035.85 26a3.35 3.35 0 1 0 6.7 0a3.35 3.35 0 1 0 -6.7 0M2042.85 26a3.35 3.35 0 1 0 6.7 0a3.35 3.35 0 1 0 -6.7 0M2049.85 26a3.35 3.35 0 1 0 6.7 0a3.35 3.35 0 1 0 -6.7 0M2063.85 26a3.35 3.35 0 1 0 6.7 0a3.35 3.35 0 1 0 -6.7 0M2070.85 26a3.35 3.35 0 1 0 6.7 0a3.35 3.35 0 1 0 -6.7 0M2077.85 26a3.35 3.35 0 1 0 6.7 0a3.35 3.35 0 1 0 -6.7 0M2084.85 26a3.35 3.35 0 1 0 6.7 0a3.35 3.35 0 1 0 -6.7 0M2112.85 26a3.35 3.35 0 1 0 6.7 0a3.35 3.35 0 1 0 -6.7 0M2126.85 26a3.35 3.35 0 1 0 6.7 0a3.35 3.35 0 1 0 -6.7 0M2133.85 26a3.35 3.35 0 1 0 6.7 0a3.35 3.35 0 1 0 -6.7 0M2140.85 26a3.35 3.35 0 1 0 6.7 0a3.35 3.35 0 1 0 -6.7 0M2147.85 26a3.35 3.35 0 1 0 6.7 0a3.35 3.35 0 1 0 -6.7 0M2154.85 26a3.35 3.35 0 1 0 6.7 0a3.35 3.35 0 1 0 -6.7 0M2161.85 26a3.35 3.35 0 1 0 6.7 0a3.35 3.35 0 1 0 -6.7 0M2168.85 26a3.35 3.35 0 1 0 6.7 0a3.35 3.35 0 1 0 -6.7 0M2175.85 26a3.35 3.35 0 1 0 6.7 0a3.35 3.35 0 1 0 -6.7 0M2182.85 26a3.35 3.35 0 1 0 6.7 0a3.35 3.35 0 1 0 -6.7 0M2189.85 26a3.35 3.35 0 1 0 6.7 0a3.35 3.35 0 1 0 -6.7 0M2196.85 26a3.35 3.35 0 1 0 6.7 0a3.35 3.35 0 1 0 -6.7 0M2203.85 26a3.35 3.35 0 1 0 6.7 0a3.35 3.35 0 1 0 -6.7 0M2210.85 26a3.35 3.35 0 1 0 6.7 0a3.35 3.35 0 1 0 -6.7 0M2217.85 26a3.35 3.35 0 1 0 6.7 0a3.35 3.35 0 1 0 -6.7 0M2224.85 26a3.35 3.35 0 1 0 6.7 0a3.35 3.35 0 1 0 -6.7 0M2231.85 26a3.35 3.35 0 1 0 6.7 0a3.35 3.35 0 1 0 -6.7 0M2238.85 26a3.35 3.35 0 1 0 6.7 0a3.35 3.35 0 1 0 -6.7 0M2245.85 26a3.35 3.35 0 1 0 6.7 0a3.35 3.35 0 1 0 -6.7 0M2252.85 26a3.35 3.35 0 1 0 6.7 0a3.35 3.35 0 1 0 -6.7 0M2259.85 26a3.35 3.35 0 1 0 6.7 0a3.35 3.35 0 1 0 -6.7 0M2266.85 26a3.35 3.35 0 1 0 6.7 0a3.35 3.35 0 1 0 -6.7 0M2273.85 26a3.35 3.35 0 1 0 6.7 0a3.35 3.35 0 1 0 -6.7 0M2280.85 26a3.35 3.35 0 1 0 6.7 0a3.35 3.35 0 1 0 -6.7 0M2287.85 26a3.35 3.35 0 1 0 6.7 0a3.35 3.35 0 1 0 -6.7 0M2294.85 26a3.35 3.35 0 1 0 6.7 0a3.35 3.35 0 1 0 -6.7 0M2301.85 26a3.35 3.35 0 1 0 6.7 0a3.35 3.35 0 1 0 -6.7 0M2308.85 26a3.35 3.35 0 1 0 6.7 0a3.35 3.35 0 1 0 -6.7 0M2315.85 26a3.35 3.35 0 1 0 6.7 0a3.35 3.35 0 1 0 -6.7 0M2322.85 26a3.35 3.35 0 1 0 6.7 0a3.35 3.35 0 1 0 -6.7 0M2392.85 26a3.35 3.35 0 1 0 6.7 0a3.35 3.35 0 1 0 -6.7 0M2399.85 26a3.35 3.35 0 1 0 6.7 0a3.35 3.35 0 1 0 -6.7 0M2420.85 26a3.35 3.35 0 1 0 6.7 0a3.35 3.35 0 1 0 -6.7 0M2455.85 26a3.35 3.35 0 1 0 6.7 0a3.35 3.35 0 1 0 -6.7 0M2469.85 26a3.35 3.35 0 1 0 6.7 0a3.35 3.35 0 1 0 -6.7 0M2532.85 26a3.35 3.35 0 1 0 6.7 0a3.35 3.35 0 1 0 -6.7 0M2567.85 26a3.35 3.35 0 1 0 6.7 0a3.35 3.35 0 1 0 -6.7 0M2574.85 26a3.35 3.35 0 1 0 6.7 0a3.35 3.35 0 1 0 -6.7 0M2602.85 26a3.35 3.35 0 1 0 6.7 0a3.35 3.35 0 1 0 -6.7 0M2623.85 26a3.35 3.35 0 1 0 6.7 0a3.35 3.35 0 1 0 -6.7 0M2665.85 26a3.35 3.35 0 1 0 6.7 0a3.35 3.35 0 1 0 -6.7 0M2700.85 26a3.35 3.35 0 1 0 6.7 0a3.35 3.35 0 1 0 -6.7 0M2707.85 26a3.35 3.35 0 1 0 6.7 0a3.35 3.35 0 1 0 -6.7 0M2742.85 26a3.35 3.35 0 1 0 6.7 0a3.35 3.35 0 1 0 -6.7 0M2784.85 26a3.35 3.35 0 1 0 6.7 0a3.35 3.35 0 1 0 -6.7 0M2826.85 26a3.35 3.35 0 1 0 6.7 0a3.35 3.35 0 1 0 -6.7 0M2833.85 26a3.35 3.35 0 1 0 6.7 0a3.35 3.35 0 1 0 -6.7 0M2847.85 26a3.35 3.35 0 1 0 6.7 0a3.35 3.35 0 1 0 -6.7 0M2861.85 26a3.35 3.35 0 1 0 6.7 0a3.35 3.35 0 1 0 -6.7 0M2868.85 26a3.35 3.35 0 1 0 6.7 0a3.35 3.35 0 1 0 -6.7 0M2882.85 26a3.35 3.35 0 1 0 6.7 0a3.35 3.35 0 1 0 -6.7 0M2917.85 26a3.35 3.35 0 1 0 6.7 0a3.35 3.35 0 1 0 -6.7 0M2924.85 26a3.35 3.35 0 1 0 6.7 0a3.35 3.35 0 1 0 -6.7 0M2931.85 26a3.35 3.35 0 1 0 6.7 0a3.35 3.35 0 1 0 -6.7 0M3078.85 26a3.35 3.35 0 1 0 6.7 0a3.35 3.35 0 1 0 -6.7 0M3085.85 26a3.35 3.35 0 1 0 6.7 0a3.35 3.35 0 1 0 -6.7 0M3099.85 26a3.35 3.35 0 1 0 6.7 0a3.35 3.35 0 1 0 -6.7 0M3106.85 26a3.35 3.35 0 1 0 6.7 0a3.35 3.35 0 1 0 -6.7 0M3113.85 26a3.35 3.35 0 1 0 6.7 0a3.35 3.35 0 1 0 -6.7 0M3148.85 26a3.35 3.35 0 1 0 6.7 0a3.35 3.35 0 1 0 -6.7 0" fill="#1f77b4"/>
<path d="M100 1033.3 H3215" stroke="#2b74d2" stroke-width="1.9" stroke-dasharray="5.25 5.25" fill="none"/>
<path d="M104.8 1364 V1436M118.8 1372 V1431M139.8 1348 V1387M146.8 1367 V1407M160.8 1360 V1427M188.8 1388 V1401M223.8 1320 V1337M237.8 1311 V1361M244.8 1343 V1372M265.8 1346 V1375M293.8 1301 V1334M314.8 1269 V1302M321.8 1284 V1308M328.8 1295 V1319M335.8 1287 V1317M356.8 1287 V1333M377.8 1265 V1315M384.8 1294 V1352M391.8 1318 V1357M412.8 1274 V1293M433.8 1257 V1279M475.8 1212 V1231M489.8 1202 V1223M524.8 1162 V1186M531.8 1173 V1217M580.8 1136 V1167M594.8 1141 V1163M622.8 1092 V1161M629.8 1129 V1195M650.8 1127 V1157M664.8 1119 V1174M671.8 1162 V1188M678.8 1172 V1205M685.8 1189 V1289M692.8 1255 V1300M727.8 1173 V1195M755.8 1144 V1203M762.8 1180 V1226M769.8 1199 V1250M783.8 1209 V1253M790.8 1251 V1296M811.8 1220 V1237M818.8 1227 V1250M825.8 1242 V1287M832.8 1254 V1277M839.8 1257 V1311M846.8 1307 V1344M853.8 1316 V1356M881.8 1242 V1265M895.8 1220 V1252M902.8 1225 V1243M909.8 1227 V1263M923.8 1204 V1230M930.8 1222 V1244M937.8 1224 V1254M951.8 1214 V1254M986.8 1162 V1185M993.8 1166 V1191M1000.8 1180 V1217M1042.8 1097 V1139M1084.8 1044 V1095M1140.8 985 V1018M1161.8 972 V1025M1175.8 945 V981M1189.8 961 V1006M1217.8 963 V990M1224.8 987 V1044M1231.8 980 V1069M1259.8 954 V1024M1266.8 999 V1034M1273.8 1012 V1042M1287.8 1008 V1039M1294.8 1027 V1079M1308.8 1052 V1124M1329.8 1054 V1074M1336.8 1062 V1077M1343.8 1062 V1257M1357.8 1192 V1309M1364.8 1222 V1302M1378.8 1227 V1289M1406.8 1155 V1205M1420.8 1161 V1200M1427.8 1178 V1221M1448.8 1177 V1217M1455.8 1213 V1281M1504.8 1083 V1113M1511.8 1090 V1127M1546.8 1031 V1064M1553.8 1051 V1078M1574.8 989 V1014M1588.8 970 V988M1602.8 922 V954M1609.8 917 V965M1623.8 934 V1006M1651.8 887 V927M1672.8 872 V916M1693.8 819 V853M1700.8 837 V892M1735.8 777 V853M1742.8 779 V866M1784.8 769 V864M1812.8 406 V581M1826.8 165 V424M1840.8 227 V630M1847.8 434 V596M1861.8 524 V696M1868.8 647 V804M1903.8 462 V570M1917.8 404 V509M1931.8 468 V644M1952.8 559 V698M1959.8 663 V731M1973.8 594 V694M1980.8 622 V766M1987.8 714 V799M2001.8 719 V815M2036.8 547 V666M2057.8 619 V673M2064.8 667 V775M2092.8 554 V625M2106.8 592 V656M2134.8 510 V656M2141.8 621 V712M2176.8 424 V487M2183.8 425 V545M2211.8 495 V543M2246.8 346 V447M2253.8 383 V439M2274.8 329 V386M2295.8 299 V332M2302.8 299 V374M2316.8 281 V404M2323.8 354 V439M2337.8 364 V549M2344.8 502 V540M2358.8 524 V666M2365.8 571 V652M2393.8 449 V533M2400.8 511 V603M2421.8 506 V736M2428.8 657 V776M2449.8 606 V677M2456.8 636 V772M2498.8 681 V724M2505.8 692 V787M2512.8 728 V792M2526.8 711 V783M2540.8 697 V760M2554.8 717 V824M2568.8 752 V858M2575.8 833 V908M2596.8 821 V883M2617.8 784 V844M2624.8 829 V922M2631.8 856 V941M2652.8 829 V894M2680.8 767 V827M2687.8 796 V847M2701.8 734 V857M2708.8 819 V895M2715.8 874 V936M2736.8 875 V932M2743.8 907 V1013M2771.8 879 V951M2785.8 882 V960M2806.8 935 V986M2813.8 924 V995M2827.8 971 V1074M2834.8 1033 V1105M2855.8 989 V1034M2862.8 996 V1054M2904.8 803 V856M2911.8 844 V902M2918.8 867 V930M2932.8 872 V950M2946.8 928 V1004M2974.8 938 V993M3002.8 889 V916M3009.8 891 V948M3030.8 874 V907M3051.8 829 V892M3058.8 880 V944M3079.8 870 V952M3093.8 910 V967M3100.8 945 V1014M3107.8 994 V1087M3128.8 1007 V1095M3142.8 1041 V1105" stroke="#64a764" stroke-width="1.75" fill="none"/>
<path d="M102.17 1367h5.25V1433h-5.25zM116.17 1374h5.25V1416h-5.25zM137.18 1355h5.25V1379h-5.25zM144.18 1381h5.25V1397h-5.25zM158.18 1361h5.25V1407h-5.25zM186.18 1393h5.25V1400h-5.25zM221.18 1330h5.25V1335h-5.25zM235.18 1327h5.25V1345h-5.25zM242.18 1348h5.25V1370h-5.25zM263.18 1352.85h5.25V1354.65h-5.25zM291.18 1304h5.25V1327h-5.25zM312.18 1276h5.25V1295h-5.25zM319.18 1297h5.25V1304h-5.25zM326.18 1301.85h5.25V1303.65h-5.25zM333.18 1292h5.25V1303h-5.25zM354.18 1288h5.25V1323h-5.25zM375.18 1279h5.25V1296h-5.25zM382.18 1297h5.25V1329h-5.25zM389.18 1330h5.25V1356h-5.25zM410.18 1282h5.25V1285h-5.25zM431.18 1267h5.25V1273h-5.25zM473.18 1224h5.25V1228h-5.25zM487.18 1215h5.25V1220h-5.25zM522.17 1172h5.25V1185h-5.25zM529.17 1187h5.25V1196h-5.25zM578.17 1147h5.25V1166h-5.25zM592.17 1154h5.25V1156h-5.25zM620.17 1122h5.25V1147h-5.25zM627.17 1148h5.25V1177h-5.25zM648.17 1132h5.25V1142h-5.25zM662.17 1125h5.25V1163h-5.25zM669.17 1164h5.25V1187h-5.25zM676.17 1188h5.25V1190h-5.25zM683.17 1196h5.25V1275h-5.25zM690.17 1274h5.25V1277h-5.25zM725.17 1176h5.25V1180h-5.25zM753.17 1146h5.25V1187h-5.25zM760.17 1187h5.25V1210h-5.25zM767.17 1208h5.25V1249h-5.25zM781.17 1230h5.25V1252h-5.25zM788.17 1253h5.25V1268h-5.25zM809.17 1227h5.25V1232h-5.25zM816.17 1234h5.25V1249h-5.25zM823.17 1255h5.25V1257.5h-5.25zM830.17 1260h5.25V1274h-5.25zM837.17 1275h5.25V1310h-5.25zM844.17 1311h5.25V1324h-5.25zM851.17 1325h5.25V1355h-5.25zM879.17 1249h5.25V1252h-5.25zM893.17 1227h5.25V1229.5h-5.25zM900.17 1229h5.25V1240h-5.25zM907.17 1241h5.25V1245h-5.25zM921.17 1220h5.25V1229h-5.25zM928.17 1230h5.25V1233h-5.25zM935.17 1234h5.25V1242h-5.25zM949.17 1227h5.25V1251h-5.25zM984.17 1168.85h5.25V1170.65h-5.25zM991.17 1169h5.25V1181h-5.25zM998.17 1183h5.25V1207h-5.25zM1040.17 1120h5.25V1138h-5.25zM1082.17 1059h5.25V1094h-5.25zM1138.17 1007h5.25V1010h-5.25zM1159.17 980h5.25V994h-5.25zM1173.17 973h5.25V976h-5.25zM1187.17 966h5.25V1005h-5.25zM1215.17 975h5.25V989h-5.25zM1222.17 989h5.25V1039h-5.25zM1229.17 1039h5.25V1052h-5.25zM1257.17 963h5.25V1017h-5.25zM1264.17 1017h5.25V1019.5h-5.25zM1271.17 1020h5.25V1029h-5.25zM1285.17 1026h5.25V1029.5h-5.25zM1292.17 1032h5.25V1071h-5.25zM1306.17 1071h5.25V1116h-5.25zM1327.17 1068.85h5.25V1070.65h-5.25zM1334.17 1071h5.25V1076h-5.25zM1341.17 1071h5.25V1245h-5.25zM1355.17 1215h5.25V1266h-5.25zM1362.17 1267h5.25V1289h-5.25zM1376.17 1259h5.25V1280h-5.25zM1404.17 1171h5.25V1204h-5.25zM1418.17 1180h5.25V1195h-5.25zM1425.17 1196h5.25V1209h-5.25zM1446.17 1183h5.25V1212h-5.25zM1453.17 1216h5.25V1227h-5.25zM1502.17 1100.85h5.25V1102.65h-5.25zM1509.17 1099h5.25V1119h-5.25zM1544.17 1049h5.25V1060h-5.25zM1551.17 1060h5.25V1069h-5.25zM1572.17 992h5.25V1010h-5.25zM1586.17 975h5.25V977.5h-5.25zM1600.17 940h5.25V953h-5.25zM1607.17 954h5.25V964h-5.25zM1621.17 956h5.25V971h-5.25zM1649.17 912h5.25V915h-5.25zM1670.17 896h5.25V902h-5.25zM1691.17 837h5.25V839h-5.25zM1698.17 840h5.25V871h-5.25zM1733.17 784h5.25V831h-5.25zM1740.17 830h5.25V857h-5.25zM1782.17 811h5.25V834h-5.25zM1810.17 499h5.25V554h-5.25zM1824.17 324h5.25V342h-5.25zM1838.17 266h5.25V528h-5.25zM1845.17 514h5.25V592h-5.25zM1859.17 532h5.25V659h-5.25zM1866.17 655h5.25V777h-5.25zM1901.17 506h5.25V541h-5.25zM1915.17 442h5.25V498h-5.25zM1929.17 470h5.25V632h-5.25zM1950.17 566h5.25V672h-5.25zM1957.17 674h5.25V704h-5.25zM1971.17 632h5.25V669h-5.25zM1978.17 674h5.25V746h-5.25zM1985.17 742h5.25V744h-5.25zM1999.17 721h5.25V777h-5.25zM2034.17 572h5.25V652h-5.25zM2055.18 625h5.25V664h-5.25zM2062.18 671h5.25V719h-5.25zM2090.18 606h5.25V622h-5.25zM2104.18 609h5.25V632h-5.25zM2132.18 513h5.25V654h-5.25zM2139.18 649h5.25V705h-5.25zM2174.18 453h5.25V457.5h-5.25zM2181.18 459h5.25V532h-5.25zM2209.18 514.35h5.25V516.15h-5.25zM2244.18 397h5.25V430h-5.25zM2251.18 427h5.25V437h-5.25zM2272.18 334h5.25V358h-5.25zM2293.18 306h5.25V322h-5.25zM2300.18 322h5.25V339h-5.25zM2314.18 329h5.25V363h-5.25zM2321.18 364h5.25V419h-5.25zM2335.18 399h5.25V512h-5.25zM2342.18 511h5.25V515h-5.25zM2356.18 529h5.25V619h-5.25zM2363.18 618h5.25V624h-5.25zM2391.18 488h5.25V526h-5.25zM2398.18 527h5.25V589h-5.25zM2419.18 508h5.25V700h-5.25zM2426.18 688h5.25V727h-5.25zM2447.18 623h5.25V634h-5.25zM2454.18 639h5.25V771h-5.25zM2496.18 692h5.25V697h-5.25zM2503.18 695h5.25V754h-5.25zM2510.18 756h5.25V781h-5.25zM2524.18 760h5.25V772h-5.25zM2538.18 728h5.25V741h-5.25zM2552.18 721h5.25V797h-5.25zM2566.18 802h5.25V851h-5.25zM2573.18 852h5.25V906h-5.25zM2594.18 856h5.25V859h-5.25zM2615.18 798h5.25V835h-5.25zM2622.18 835h5.25V904h-5.25zM2629.18 904h5.25V916h-5.25zM2650.18 861h5.25V869h-5.25zM2678.18 775h5.25V814h-5.25zM2685.18 815.85h5.25V817.65h-5.25zM2699.18 749h5.25V829h-5.25zM2706.18 827h5.25V889h-5.25zM2713.18 889h5.25V931h-5.25zM2734.18 887h5.25V920h-5.25zM2741.18 922h5.25V1012h-5.25zM2769.18 903h5.25V909h-5.25zM2783.18 887h5.25V953h-5.25zM2804.18 956h5.25V967h-5.25zM2811.18 970h5.25V988h-5.25zM2825.18 980h5.25V1052h-5.25zM2832.18 1054h5.25V1105h-5.25zM2853.18 1008h5.25V1012h-5.25zM2860.18 1015h5.25V1046h-5.25zM2902.18 809h5.25V853h-5.25zM2909.18 852h5.25V891h-5.25zM2916.18 892h5.25V918h-5.25zM2930.18 882h5.25V944h-5.25zM2944.18 943h5.25V977h-5.25zM2972.18 954.35h5.25V956.15h-5.25zM3000.18 893h5.25V897h-5.25zM3007.18 897h5.25V934h-5.25zM3028.18 880h5.25V902h-5.25zM3049.18 834h5.25V891h-5.25zM3056.18 894h5.25V942h-5.25zM3077.18 887h5.25V951h-5.25zM3091.18 917h5.25V949h-5.25zM3098.18 949h5.25V1006h-5.25zM3105.18 1005h5.25V1039h-5.25zM3126.18 1024h5.25V1085h-5.25zM3140.18 1078h5.25V1102h-5.25z" fill="#64a764"/>
<path d="M111.8 1364 V1432M125.8 1364 V1415M132.8 1357 V1396M153.8 1357 V1407M167.8 1371 V1410M174.8 1386 V1419M181.8 1388 V1407M195.8 1374 V1408M202.8 1376 V1395M209.8 1327 V1380M216.8 1326 V1342M230.8 1324 V1340M251.8 1355 V1375M258.8 1344 V1364M272.8 1330 V1354M279.8 1308 V1340M286.8 1292 V1325M300.8 1306 V1335M307.8 1280 V1312M342.8 1292 V1322M349.8 1272 V1299M363.8 1289 V1327M370.8 1276 V1301M398.8 1316 V1359M405.8 1280 V1322M419.8 1277 V1295M426.8 1267 V1291M440.8 1259 V1274M447.8 1232 V1267M454.8 1231 V1251M461.8 1224 V1243M468.8 1218 V1242M482.8 1210 V1239M496.8 1203 V1235M503.8 1192 V1217M510.8 1183 V1204M517.8 1170 V1198M538.8 1176 V1210M545.8 1157 V1198M552.8 1154 V1170M559.8 1139 V1164M566.8 1150 V1172M573.8 1141 V1162M587.8 1147 V1179M601.8 1106 V1155M608.8 1116 V1137M615.8 1102 V1129M636.8 1156 V1198M643.8 1130 V1164M657.8 1119 V1149M699.8 1205 V1275M706.8 1178 V1215M713.8 1175 V1187M720.8 1171 V1203M734.8 1169 V1182M741.8 1150 V1174M748.8 1139 V1161M776.8 1226 V1254M797.8 1232 V1272M804.8 1224 V1270M860.8 1283 V1356M867.8 1251 V1292M874.8 1239 V1266M888.8 1231 V1256M916.8 1202 V1250M944.8 1219 V1243M958.8 1214 V1252M965.8 1197 V1220M972.8 1192 V1212M979.8 1159 V1202M1007.8 1189 V1223M1014.8 1173 V1201M1021.8 1154 V1184M1028.8 1140 V1163M1035.8 1114 V1142M1049.8 1114 V1147M1056.8 1108 V1158M1063.8 1109 V1139M1070.8 1068 V1119M1077.8 1049 V1083M1091.8 1059 V1127M1098.8 1039 V1063M1105.8 1003 V1047M1112.8 1012 V1047M1119.8 1022 V1049M1126.8 1010 V1031M1133.8 994 V1015M1147.8 987 V1019M1154.8 977 V1025M1168.8 966 V1009M1182.8 956 V988M1196.8 984 V1028M1203.8 975 V1014M1210.8 956 V991M1238.8 1009 V1056M1245.8 994 V1021M1252.8 959 V1007M1280.8 1019 V1051M1301.8 1060 V1100M1315.8 1089 V1130M1322.8 1059 V1121M1350.8 1162 V1233M1371.8 1257 V1344M1385.8 1211 V1270M1392.8 1161 V1220M1399.8 1161 V1196M1413.8 1172 V1207M1434.8 1184 V1223M1441.8 1165 V1198M1462.8 1187 V1237M1469.8 1159 V1198M1476.8 1145 V1174M1483.8 1108 V1169M1490.8 1094 V1116M1497.8 1085 V1120M1518.8 1101 V1139M1525.8 1081 V1114M1532.8 1064 V1100M1539.8 1036 V1097M1560.8 1012 V1069M1567.8 985 V1019M1581.8 962 V1011M1595.8 936 V988M1616.8 943 V992M1630.8 941 V987M1637.8 901 V951M1644.8 891 V932M1658.8 894 V929M1665.8 885 V925M1679.8 859 V922M1686.8 812 V864M1707.8 856 V894M1714.8 837 V883M1721.8 786 V880M1728.8 765 V829M1749.8 840 V886M1756.8 847 V910M1763.8 781 V848M1770.8 798 V855M1777.8 684 V841M1791.8 709 V789M1798.8 576 V773M1805.8 476 V604M1819.8 415 V566M1833.8 182 V397M1854.8 514 V614M1875.8 707 V796M1882.8 619 V782M1889.8 612 V675M1896.8 500 V649M1910.8 425 V547M1924.8 448 V542M1938.8 556 V719M1945.8 540 V614M1966.8 624 V725M1994.8 714 V774M2008.8 670 V782M2015.8 615 V694M2022.8 560 V656M2029.8 523 V587M2043.8 625 V694M2050.8 599 V657M2071.8 644 V743M2078.8 640 V696M2085.8 594 V691M2099.8 589 V687M2113.8 544 V642M2120.8 495 V580M2127.8 499 V566M2148.8 581 V724M2155.8 565 V647M2162.8 508 V584M2169.8 434 V552M2190.8 474 V603M2197.8 500 V550M2204.8 485 V533M2218.8 490 V531M2225.8 436 V514M2232.8 427 V470M2239.8 392 V436M2260.8 385 V498M2267.8 338 V428M2281.8 339 V395M2288.8 290 V358M2309.8 306 V389M2330.8 380 V479M2351.8 499 V542M2372.8 544 V629M2379.8 511 V594M2386.8 481 V524M2407.8 530 V614M2414.8 506 V566M2435.8 616 V752M2442.8 602 V666M2463.8 728 V801M2470.8 745 V857M2477.8 711 V787M2484.8 644 V764M2491.8 616 V696M2519.8 747 V813M2533.8 718 V790M2547.8 662 V755M2561.8 756 V820M2582.8 854 V918M2589.8 851 V913M2603.8 824 V906M2610.8 779 V845M2638.8 882 V938M2645.8 842 V913M2659.8 849 V931M2666.8 794 V859M2673.8 774 V818M2694.8 739 V826M2722.8 874 V931M2729.8 859 V915M2750.8 966 V1018M2757.8 916 V994M2764.8 882 V949M2778.8 863 V932M2792.8 926 V965M2799.8 933 V1002M2820.8 937 V997M2841.8 1050 V1102M2848.8 1000 V1098M2869.8 961 V1022M2876.8 919 V985M2883.8 895 V944M2890.8 884 V916M2897.8 810 V901M2925.8 873 V942M2939.8 917 V959M2953.8 933 V995M2960.8 917 V967M2967.8 938 V984M2981.8 936 V987M2988.8 894 V967M2995.8 870 V912M3016.8 877 V937M3023.8 861 V904M3037.8 817 V912M3044.8 801 V858M3065.8 914 V956M3072.8 865 V932M3086.8 889 V969M3114.8 1031 V1121M3121.8 1000 V1042M3135.8 1071 V1093M3149.8 1079 V1151M3156.8 1047 V1104M3163.8 1017 V1067M3170.8 1019 V1041" stroke="#d4605b" stroke-width="1.75" fill="none"/>
<path d="M110.05 1374.88h3.5V1431.12h-3.5zM124.05 1376.88h3.5V1413.12h-3.5zM131.05 1360.88h3.5V1370.12h-3.5zM152.05 1367.88h3.5V1395.12h-3.5zM166.05 1403.88h3.5V1408.12h-3.5zM173.05 1397.88h3.5V1400.12h-3.5zM180.05 1392.88h3.5V1395.12h-3.5zM194.05 1396.88h3.5V1399.12h-3.5zM201.05 1381.88h3.5V1393.12h-3.5zM208.05 1341.88h3.5V1379.12h-3.5zM215.05 1330.88h3.5V1337.12h-3.5zM229.05 1327.88h3.5V1334.12h-3.5zM250.05 1361.88h3.5V1367.12h-3.5zM257.05 1354.88h3.5V1358.12h-3.5zM271.05 1335.88h3.5V1353.12h-3.5zM278.05 1325.88h3.5V1334.12h-3.5zM285.05 1304.88h3.5V1323.12h-3.5zM299.05 1312.88h3.5V1323.12h-3.5zM306.05 1281.88h3.5V1307.12h-3.5zM341.05 1294.88h3.5V1302.12h-3.5zM348.05 1290.38h3.5V1292.12h-3.5zM362.05 1293.88h3.5V1319.12h-3.5zM369.05 1278.88h3.5V1291.12h-3.5zM397.05 1322.88h3.5V1355.12h-3.5zM404.05 1284.88h3.5V1320.12h-3.5zM425.05 1269.88h3.5V1279.12h-3.5zM446.05 1250.88h3.5V1265.12h-3.5zM453.05 1238.88h3.5V1248.12h-3.5zM467.05 1226.88h3.5V1232.12h-3.5zM481.05 1215.88h3.5V1225.12h-3.5zM495.05 1214.88h3.5V1219.12h-3.5zM502.05 1201.88h3.5V1211.12h-3.5zM509.05 1194.88h3.5V1202.12h-3.5zM516.05 1172.88h3.5V1194.12h-3.5zM537.05 1189.88h3.5V1193.12h-3.5zM544.05 1162.88h3.5V1194.12h-3.5zM558.05 1159.88h3.5V1162.12h-3.5zM572.05 1147.88h3.5V1155.12h-3.5zM586.05 1156.88h3.5V1165.12h-3.5zM600.05 1129.88h3.5V1153.12h-3.5zM614.05 1104.88h3.5V1119.12h-3.5zM635.05 1159.88h3.5V1176.12h-3.5zM642.05 1134.88h3.5V1156.12h-3.5zM656.05 1125.88h3.5V1141.12h-3.5zM698.05 1211.88h3.5V1274.12h-3.5zM705.05 1185.88h3.5V1209.12h-3.5zM712.05 1179.88h3.5V1183.12h-3.5zM719.05 1176.38h3.5V1178.12h-3.5zM733.05 1174.88h3.5V1180.12h-3.5zM740.05 1154.88h3.5V1171.12h-3.5zM747.05 1148.88h3.5V1153.12h-3.5zM775.05 1231.88h3.5V1247.12h-3.5zM796.05 1241.88h3.5V1268.12h-3.5zM803.05 1227.88h3.5V1238.12h-3.5zM859.05 1292.88h3.5V1354.12h-3.5zM866.05 1257.88h3.5V1290.12h-3.5zM873.05 1250.88h3.5V1255.12h-3.5zM887.05 1237.88h3.5V1254.12h-3.5zM915.05 1219.88h3.5V1243.12h-3.5zM943.05 1225.88h3.5V1241.12h-3.5zM957.05 1220.88h3.5V1248.12h-3.5zM964.05 1204.88h3.5V1218.12h-3.5zM978.05 1169.88h3.5V1200.12h-3.5zM1006.05 1201.88h3.5V1206.12h-3.5zM1013.05 1180.88h3.5V1199.12h-3.5zM1020.05 1158.88h3.5V1180.12h-3.5zM1027.05 1146.88h3.5V1156.12h-3.5zM1034.05 1122.88h3.5V1141.12h-3.5zM1048.05 1134.88h3.5V1138.12h-3.5zM1055.05 1127.88h3.5V1130.12h-3.5zM1062.05 1115.88h3.5V1123.12h-3.5zM1069.05 1084.88h3.5V1111.12h-3.5zM1076.05 1058.88h3.5V1081.12h-3.5zM1090.05 1062.88h3.5V1092.12h-3.5zM1097.05 1049.88h3.5V1058.12h-3.5zM1104.05 1033.88h3.5V1046.12h-3.5zM1111.05 1031.62h3.5V1033.38h-3.5zM1125.05 1017.88h3.5V1029.12h-3.5zM1132.05 996.88h3.5V1013.12h-3.5zM1146.05 1000.88h3.5V1011.12h-3.5zM1153.05 980.88h3.5V996.12h-3.5zM1167.05 973.88h3.5V993.12h-3.5zM1181.05 964.88h3.5V974.12h-3.5zM1195.05 989.88h3.5V1000.12h-3.5zM1209.05 975.88h3.5V981.12h-3.5zM1237.05 1022.88h3.5V1050.12h-3.5zM1244.05 1008.88h3.5V1020.12h-3.5zM1251.05 962.88h3.5V1002.12h-3.5zM1279.05 1026.88h3.5V1029.12h-3.5zM1300.05 1071.88h3.5V1083.12h-3.5zM1314.05 1103.88h3.5V1113.12h-3.5zM1321.05 1067.88h3.5V1100.12h-3.5zM1349.05 1215.88h3.5V1226.12h-3.5zM1370.05 1261.88h3.5V1289.12h-3.5zM1384.05 1215.88h3.5V1265.12h-3.5zM1391.05 1185.88h3.5V1218.12h-3.5zM1398.05 1169.88h3.5V1181.12h-3.5zM1412.05 1182.88h3.5V1201.12h-3.5zM1433.05 1190.88h3.5V1208.12h-3.5zM1440.05 1185.88h3.5V1191.12h-3.5zM1461.05 1194.88h3.5V1226.12h-3.5zM1468.05 1162.88h3.5V1191.12h-3.5zM1475.05 1150.88h3.5V1160.12h-3.5zM1482.05 1111.88h3.5V1155.12h-3.5zM1496.05 1101.88h3.5V1108.12h-3.5zM1517.05 1112.62h3.5V1114.38h-3.5zM1524.05 1090.88h3.5V1110.12h-3.5zM1538.05 1049.88h3.5V1086.12h-3.5zM1559.05 1019.88h3.5V1068.12h-3.5zM1566.05 994.88h3.5V1014.12h-3.5zM1580.05 968.88h3.5V1009.12h-3.5zM1594.05 940.88h3.5V974.12h-3.5zM1615.05 957.88h3.5V961.12h-3.5zM1629.05 952.88h3.5V968.12h-3.5zM1636.05 917.88h3.5V949.12h-3.5zM1657.05 900.88h3.5V909.12h-3.5zM1678.05 865.88h3.5V901.12h-3.5zM1685.05 835.88h3.5V863.12h-3.5zM1720.05 800.88h3.5V866.12h-3.5zM1727.05 786.88h3.5V798.12h-3.5zM1748.05 868.88h3.5V878.12h-3.5zM1755.05 860.88h3.5V864.12h-3.5zM1762.05 841.88h3.5V844.12h-3.5zM1769.05 830.88h3.5V836.12h-3.5zM1776.05 816.88h3.5V822.12h-3.5zM1790.05 767.88h3.5V780.12h-3.5zM1797.05 585.88h3.5V761.12h-3.5zM1804.05 497.88h3.5V568.12h-3.5zM1818.05 434.88h3.5V555.12h-3.5zM1832.05 264.88h3.5V334.12h-3.5zM1853.05 537.88h3.5V589.12h-3.5zM1881.05 632.88h3.5V773.12h-3.5zM1888.05 637.88h3.5V654.12h-3.5zM1895.05 506.88h3.5V629.12h-3.5zM1909.05 446.88h3.5V538.12h-3.5zM1923.05 476.88h3.5V488.12h-3.5zM1937.05 606.88h3.5V633.12h-3.5zM1944.05 566.88h3.5V601.12h-3.5zM1965.05 632.88h3.5V710.12h-3.5zM1993.05 732.88h3.5V741.12h-3.5zM2007.05 677.88h3.5V775.12h-3.5zM2014.05 623.88h3.5V678.12h-3.5zM2021.05 581.88h3.5V619.12h-3.5zM2028.05 564.88h3.5V570.12h-3.5zM2049.05 625.88h3.5V648.12h-3.5zM2070.05 664.88h3.5V715.12h-3.5zM2077.05 659.62h3.5V661.38h-3.5zM2084.05 604.88h3.5V656.12h-3.5zM2098.05 606.88h3.5V623.12h-3.5zM2112.05 564.88h3.5V631.12h-3.5zM2119.05 546.88h3.5V561.12h-3.5zM2126.05 511.88h3.5V542.12h-3.5zM2147.05 597.88h3.5V710.12h-3.5zM2154.05 579.88h3.5V594.12h-3.5zM2161.05 518.88h3.5V578.12h-3.5zM2168.05 454.88h3.5V502.12h-3.5zM2189.05 492.88h3.5V535.12h-3.5zM2196.05 514.88h3.5V531.12h-3.5zM2217.05 508.88h3.5V513.12h-3.5zM2224.05 448.88h3.5V507.12h-3.5zM2231.05 434.88h3.5V446.12h-3.5zM2238.05 397.88h3.5V434.12h-3.5zM2259.05 390.88h3.5V435.12h-3.5zM2266.05 343.88h3.5V388.12h-3.5zM2280.05 352.88h3.5V362.12h-3.5zM2287.05 306.88h3.5V348.12h-3.5zM2308.05 329.88h3.5V343.12h-3.5zM2329.05 399.88h3.5V416.12h-3.5zM2350.05 527.88h3.5V539.12h-3.5zM2371.05 572.88h3.5V623.12h-3.5zM2378.05 525.88h3.5V566.12h-3.5zM2385.05 490.88h3.5V516.12h-3.5zM2406.05 548.88h3.5V588.12h-3.5zM2413.05 509.88h3.5V540.12h-3.5zM2434.05 658.88h3.5V724.12h-3.5zM2441.05 611.88h3.5V654.12h-3.5zM2462.05 758.88h3.5V768.12h-3.5zM2476.05 737.88h3.5V757.12h-3.5zM2483.05 660.88h3.5V740.12h-3.5zM2490.05 630.88h3.5V657.12h-3.5zM2518.05 757.88h3.5V778.12h-3.5zM2532.05 729.88h3.5V771.12h-3.5zM2546.05 725.88h3.5V740.12h-3.5zM2581.05 894.88h3.5V899.12h-3.5zM2588.05 859.88h3.5V894.12h-3.5zM2602.05 842.88h3.5V857.12h-3.5zM2609.05 800.88h3.5V840.12h-3.5zM2644.05 861.88h3.5V911.12h-3.5zM2658.05 858.88h3.5V873.12h-3.5zM2665.05 804.88h3.5V857.12h-3.5zM2672.05 775.88h3.5V801.12h-3.5zM2693.05 747.88h3.5V815.12h-3.5zM2721.05 919.88h3.5V929.12h-3.5zM2728.05 889.88h3.5V913.12h-3.5zM2749.05 994.88h3.5V1006.12h-3.5zM2756.05 935.88h3.5V992.12h-3.5zM2763.05 903.88h3.5V931.12h-3.5zM2777.05 886.88h3.5V908.12h-3.5zM2819.05 982.88h3.5V987.12h-3.5zM2840.05 1077.88h3.5V1100.12h-3.5zM2847.05 1010.88h3.5V1074.12h-3.5zM2868.05 984.88h3.5V1020.12h-3.5zM2875.05 931.88h3.5V983.12h-3.5zM2882.05 903.88h3.5V929.12h-3.5zM2889.05 887.88h3.5V899.12h-3.5zM2896.05 814.88h3.5V885.12h-3.5zM2924.05 882.88h3.5V916.12h-3.5zM2952.05 940.88h3.5V976.12h-3.5zM2987.05 898.88h3.5V951.12h-3.5zM2994.05 893.88h3.5V896.12h-3.5zM3015.05 893.88h3.5V928.12h-3.5zM3022.05 880.88h3.5V890.12h-3.5zM3036.05 826.88h3.5V904.12h-3.5zM3043.05 835.88h3.5V848.12h-3.5zM3064.05 935.88h3.5V938.12h-3.5zM3071.05 887.88h3.5V930.12h-3.5zM3085.05 923.88h3.5V948.12h-3.5zM3120.05 1022.88h3.5V1036.12h-3.5zM3134.05 1079.88h3.5V1083.12h-3.5zM3148.05 1103.88h3.5V1108.12h-3.5zM3155.05 1060.88h3.5V1101.12h-3.5zM3162.05 1032.88h3.5V1056.12h-3.5z" stroke="#d4605b" stroke-width="1.75" fill="#fff"/>
<path d="M417.18 1280.85h5.25v1.75h-5.25zM438.18 1269.4h5.25V1272.6h-5.25zM459.18 1234h5.25V1237h-5.25zM550.17 1160h5.25V1163h-5.25zM564.17 1155.85h5.25v1.75h-5.25zM606.17 1124.85h5.25v1.75h-5.25zM970.17 1201.4h5.25V1204.6h-5.25zM1117.17 1029h5.25V1032h-5.25zM1201.17 985.35h5.25v1.75h-5.25zM1488.17 1109.35h5.25v1.75h-5.25zM1530.17 1088.4h5.25V1091.6h-5.25zM1642.17 915.1h5.25v1.75h-5.25zM1663.17 896h5.25V899h-5.25zM1705.17 867.6h5.25v1.75h-5.25zM1712.17 866.15h5.25V869.35h-5.25zM1873.17 774.85h5.25v1.75h-5.25zM2041.17 651.15h5.25V654.35h-5.25zM2202.18 509h5.25V512h-5.25zM2468.18 755.35h5.25v1.75h-5.25zM2559.18 801.1h5.25v1.75h-5.25zM2636.18 915h5.25V918h-5.25zM2790.18 949.85h5.25v1.75h-5.25zM2797.18 948.4h5.25V951.6h-5.25zM2937.18 942.85h5.25v1.75h-5.25zM2958.18 954h5.25V957h-5.25zM2965.18 951.65h5.25V954.85h-5.25zM2979.18 955.4h5.25V958.6h-5.25zM3112.18 1036h5.25V1039h-5.25zM3168.18 1032.4h5.25V1035.6h-5.25z" fill="#d4605b"/>
<path d="M1822.3 165.2 h12 M1826.8 161.7 v7" stroke="#111" stroke-width="1.75" fill="none"/>
<path d="M100.3 1436 h12 M104.8 1432.5 v7" stroke="#111" stroke-width="1.75" fill="none"/>
<path d="M3145.3 1151.3 h12 M3149.8 1147.8 v7" stroke="#111" stroke-width="1.75" fill="none"/>
<text class="b" x="1834.4" y="158.8" fill="#d95a55">130.50</text>
<text class="b" x="112.8" y="1455.8" fill="#68aa5c">57.25</text>
<text class="b" x="3158.6" y="1172.2" fill="#68aa5c">73.58</text>
<rect x="3214.9" y="421.4" width="110" height="28.8" fill="#fff" stroke="#f0f1f3" stroke-width="1.75"/>
<text x="3216.2" y="442.5" fill="#f09a3e">115.68</text>
<rect x="3215.4" y="1033.4" width="110" height="29.2" fill="#fff" stroke="#f09a3e" stroke-width="1.9"/>
<text x="3218.4" y="1055.1" fill="#f09a3e">80.44</text>
</svg></body></html>
